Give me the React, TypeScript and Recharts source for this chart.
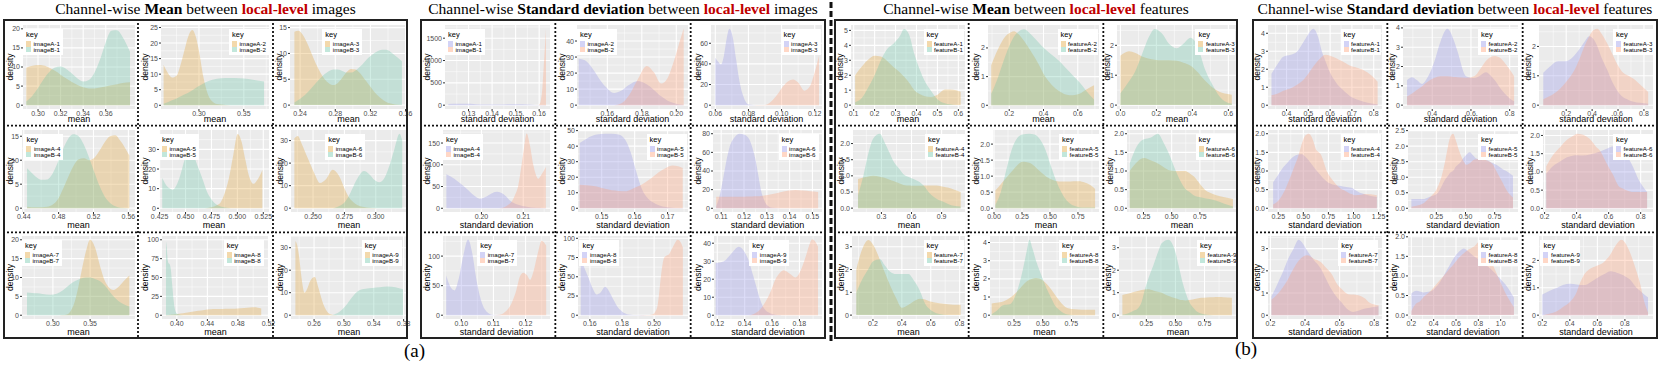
import React from 'react';
import { AreaChart, Area, XAxis, YAxis, CartesianGrid } from 'recharts';

// ---- channel-wise MEAN, local-level images (imageA = tan, imageB = teal) ----
const mi1X = [0.2896, 0.295, 0.3, 0.305, 0.31, 0.315, 0.32, 0.325, 0.33, 0.335, 0.34, 0.345, 0.35, 0.355, 0.36, 0.365, 0.37, 0.375, 0.3815];
const mi1A = [9.8, 10.3, 10.5, 10.4, 9.8, 9.0, 8.0, 7.0, 6.1, 5.3, 4.7, 4.4, 4.4, 4.6, 4.9, 5.2, 5.5, 5.8, 6.0];
const mi1B = [1.0, 2.5, 4.5, 6.8, 8.7, 9.9, 10.1, 9.5, 8.3, 7.0, 6.2, 6.6, 8.5, 12.0, 16.5, 19.5, 19.6, 17.8, 14.0];
const mi2X = [0.2606, 0.265, 0.27, 0.275, 0.28, 0.285, 0.289, 0.2927, 0.296, 0.3, 0.305, 0.31, 0.315, 0.32, 0.33, 0.34, 0.35, 0.36, 0.3726];
const mi2A = [13, 10.5, 8.9, 9.5, 13.5, 19.0, 22.8, 24.2, 22.5, 17.5, 9.0, 3.5, 1.2, 0.4, 0.1, 0, 0, 0, 0];
const mi2B = [0.5, 1.0, 1.6, 2.2, 2.9, 3.6, 4.2, 4.8, 5.5, 6.2, 7.0, 7.7, 8.2, 8.5, 8.8, 8.8, 8.6, 8.2, 7.6];
const mi3X = [0.2335, 0.238, 0.243, 0.248, 0.253, 0.258, 0.263, 0.268, 0.273, 0.278, 0.283, 0.288, 0.293, 0.298, 0.303, 0.308, 0.313, 0.318, 0.323, 0.328, 0.333, 0.338, 0.343, 0.348, 0.3558];
const mi3A = [14.2, 14.4, 13.6, 12.0, 10.0, 8.0, 6.3, 5.0, 4.2, 3.9, 4.3, 5.3, 6.4, 7.0, 6.9, 6.2, 5.1, 4.0, 2.9, 1.9, 1.2, 0.6, 0.3, 0.1, 0.0];
const mi3B = [0.5, 1.0, 1.6, 2.4, 3.3, 4.3, 5.2, 6.0, 6.6, 6.9, 6.9, 6.6, 6.3, 6.3, 6.7, 7.4, 8.3, 9.2, 9.9, 10.4, 10.7, 10.7, 10.3, 9.6, 8.5];
const mi4X = [0.4438, 0.449, 0.455, 0.461, 0.467, 0.473, 0.479, 0.485, 0.491, 0.497, 0.503, 0.509, 0.515, 0.521, 0.527, 0.533, 0.539, 0.545, 0.551, 0.5611];
const mi4A = [0.3, 0.2, 0.2, 0.2, 0.3, 0.7, 1.8, 4.0, 6.5, 8.8, 10.2, 10.4, 10.0, 10.5, 12.0, 13.8, 15.0, 15.2, 14.0, 11.0];
const mi4B = [8.3, 7.4, 6.4, 5.9, 6.0, 7.2, 9.5, 12.3, 14.5, 15.4, 15.0, 13.2, 10.5, 7.5, 4.6, 2.4, 1.1, 0.4, 0.1, 0.0];
const mi5X = [0.4275, 0.431, 0.4345, 0.4377, 0.441, 0.445, 0.449, 0.4536, 0.458, 0.462, 0.4663, 0.471, 0.4758, 0.4795, 0.4838, 0.488, 0.4917, 0.496, 0.5003, 0.504, 0.5076, 0.5115, 0.5155, 0.52, 0.5241];
const mi5A = [0, 0, 0, 0, 0, 0, 0, 0, 0, 0, 0, 0.2, 0.6, 1.4, 3.0, 8.0, 15.0, 27.0, 37.8, 34.0, 25.0, 16.0, 12.5, 15.0, 19.5];
const mi5B = [15.5, 12.0, 10.2, 9.5, 11.5, 17.0, 24.5, 29.0, 26.5, 21.0, 15.0, 8.0, 4.0, 2.0, 0.9, 0.4, 0.1, 0, 0, 0, 0, 0, 0, 0, 0];
const mi6X = [0.2351, 0.2378, 0.241, 0.2459, 0.251, 0.2554, 0.2605, 0.2657, 0.2705, 0.2757, 0.279, 0.2824, 0.286, 0.2905, 0.295, 0.299, 0.3027, 0.307, 0.311, 0.315, 0.3189, 0.3211];
const mi6A = [31.0, 32.0, 28.5, 22.0, 15.5, 11.2, 13.0, 17.0, 14.5, 8.0, 4.5, 2.5, 1.2, 0.5, 0.2, 0.1, 0, 0, 0, 0, 0, 0];
const mi6B = [0, 0, 0, 0, 0, 0, 0, 0, 0.8, 3.0, 6.0, 10.0, 13.8, 16.5, 15.0, 12.5, 11.5, 13.5, 19.0, 26.5, 33.0, 30.0];
const mi7X = [0.2652, 0.272, 0.279, 0.286, 0.2964, 0.305, 0.3125, 0.3188, 0.325, 0.3299, 0.3345, 0.3388, 0.3445, 0.35, 0.3565, 0.3634, 0.37, 0.3813, 0.388, 0.395, 0.4027];
const mi7A = [0, 0, 0, 0, 0, 0, 0.05, 0.2, 1.5, 4.0, 7.8, 12.0, 17.0, 20.0, 18.0, 13.0, 9.0, 6.7, 7.5, 9.0, 10.5];
const mi7B = [6.0, 5.9, 5.8, 5.6, 5.4, 5.7, 6.5, 7.5, 8.5, 9.1, 9.5, 9.8, 10.0, 10.0, 9.6, 9.0, 7.8, 5.0, 3.8, 2.9, 2.3];
const mi8X = [0.3858, 0.3868, 0.388, 0.3892, 0.3905, 0.392, 0.394, 0.396, 0.398, 0.401, 0.405, 0.412, 0.42, 0.428, 0.436, 0.444, 0.452, 0.46, 0.468, 0.476, 0.484, 0.492, 0.4996, 0.506, 0.5105];
const mi8A = [0.3, 0.3, 0.4, 0.4, 0.5, 0.6, 0.8, 1.0, 1.3, 1.7, 2.3, 3.3, 4.5, 5.8, 7.0, 8.0, 8.3, 8.4, 8.5, 8.7, 9.2, 10.0, 10.5, 10.0, 9.0];
const mi8B = [98, 90, 74, 69, 68, 62, 40, 18, 6, 1.5, 0.4, 0.1, 0, 0, 0, 0, 0, 0, 0, 0, 0, 0, 0, 0, 0];
const mi9X = [0.235, 0.2375, 0.24, 0.2427, 0.2473, 0.2505, 0.2545, 0.2609, 0.266, 0.2723, 0.2791, 0.285, 0.2882, 0.295, 0.3018, 0.3109, 0.32, 0.329, 0.3382, 0.348, 0.3586, 0.369, 0.3791];
const mi9A = [33, 31, 26, 18, 10, 11.5, 15, 17, 12, 5, 1, 0.2, 0.1, 0, 0, 0, 0, 0, 0, 0, 0, 0, 0];
const mi9B = [0, 0, 0, 0, 0, 0, 0, 0, 0, 0, 0, 0.1, 0.5, 1.8, 4.0, 8.0, 11.0, 11.8, 12.1, 12.4, 12.7, 12.4, 11.5];

// ---- channel-wise STANDARD DEVIATION, local-level images (lavender / salmon) ----
const si1X = [0.1214, 0.125, 0.129, 0.133, 0.137, 0.141, 0.145, 0.149, 0.153, 0.157, 0.1598, 0.1606, 0.1614, 0.1622, 0.1629];
const si1A = [25, 32, 30, 24, 18, 15, 17, 22, 20, 12, 6, 5, 4, 3, 2];
const si1B = [null, null, null, null, null, null, null, null, null, null, 0, 80, 400, 1100, 1700];
const si2X = [0.1434, 0.147, 0.151, 0.155, 0.159, 0.1639, 0.168, 0.1725, 0.1776, 0.1828, 0.187, 0.1912, 0.195, 0.1985, 0.2015, 0.2043];
const si2A = [29, 28, 23.5, 17, 11.5, 7.6, 9, 12.5, 15, 13, 9.5, 5.5, 2.8, 1.3, 0.6, 0.3];
const si2B = [0, 0, 0, 0, 0, 0, 1.0, 6.0, 16.0, 24.5, 20.5, 13.5, 17, 27, 38, 48];
const si3X = [0.06, 0.0617, 0.0634, 0.0652, 0.0668, 0.0685, 0.0705, 0.0725, 0.0745, 0.0766, 0.0781, 0.0796, 0.083, 0.087, 0.0907, 0.0947, 0.0978, 0.1008, 0.1038, 0.1069, 0.11, 0.1139, 0.117, 0.12, 0.1226];
const si3A = [46, 42, 39.5, 48, 64, 74, 66, 45, 24, 10, 4, 1, 0.2, 0, 0, 0, 0, 0, 0, 0, 0, 0, 0, 0, 0];
const si3B = [0, 0, 0, 0, 0, 0, 0, 0, 0, 0, 0, 0, 0, 0.1, 0.5, 5, 11, 18, 23, 25, 22, 14, 18, 32, 48];
const si4X = [0.1916, 0.1935, 0.1952, 0.1968, 0.198, 0.1996, 0.2012, 0.2024, 0.2036, 0.2048, 0.2058, 0.2064, 0.2072, 0.208, 0.2088, 0.2096, 0.2102, 0.2108, 0.2116, 0.2124, 0.2136, 0.2144, 0.2154];
const si4A = [78, 68, 55, 42, 31, 22, 27, 34, 38, 35, 28, 22, 15, 11, 8, 5.5, 4.5, 3.5, 2.6, 1.8, 1, 0.7, 0.5];
const si4B = [0, 0, 0, 0, 0, 0, 0, 0, 0, 0.5, 4, 8, 15, 30, 52, 100, 140, 172, 145, 100, 68, 78, 95];
const si5X = [0.1433, 0.1455, 0.1485, 0.151, 0.1531, 0.1551, 0.1572, 0.1588, 0.1603, 0.1623, 0.1638, 0.1654, 0.1675, 0.1695, 0.1715, 0.1732, 0.1746];
const si5A = [42, 45, 47.5, 48, 48, 47.5, 44, 36, 25, 12, 7, 4, 1.8, 0.8, 0.4, 0.2, 0.1];
const si5B = [15.2, 14.8, 14, 12.5, 11.6, 11.2, 11, 12, 13.5, 15.5, 17.5, 20, 23.5, 26, 27.5, 27, 26];
const si6X = [0.1078, 0.1092, 0.1107, 0.1122, 0.1136, 0.1158, 0.118, 0.1202, 0.1223, 0.1238, 0.1252, 0.1263, 0.1274, 0.1288, 0.1303, 0.1325, 0.136, 0.1397, 0.1426, 0.146, 0.149, 0.1525];
const si6A = [2, 12, 30, 50, 65, 76, 80, 79, 74, 64, 50, 35, 20, 9, 3, 0.5, 0, 0, 0, 0, 0, 0];
const si6B = [12.5, 12.5, 12.5, 12.5, 12.5, 12.5, 12.5, 12.5, 12.6, 12.7, 12.8, 13.0, 13.3, 13.8, 14.3, 15.2, 17.2, 19.0, 19.5, 19.0, 18.3, 17.5];
const si7X = [0.0953, 0.0966, 0.0979, 0.0992, 0.1006, 0.1021, 0.1034, 0.1047, 0.106, 0.1073, 0.1094, 0.111, 0.1125, 0.1135, 0.1146, 0.1156, 0.117, 0.1182, 0.1193, 0.1204, 0.1214, 0.1225, 0.1238, 0.125, 0.1264];
const si7A = [67, 48, 42, 62, 100, 128, 105, 60, 28, 10, 1, 0.2, 0, 0, 0, 0, 0, 0, 0, 0, 0, 0, 0, 0, 0];
const si7B = [0, 0, 0, 0, 0, 0, 0, 0, 0, 0, 0, 0.3, 1.5, 5, 11, 20, 40, 65, 72, 68, 60, 75, 105, 126, 118];
const si8X = [0.1543, 0.1565, 0.1589, 0.1615, 0.1642, 0.1668, 0.1695, 0.172, 0.1747, 0.1775, 0.18, 0.1842, 0.19, 0.1955, 0.1989, 0.2005, 0.2021, 0.2032, 0.2042, 0.2063, 0.2095, 0.212, 0.2147, 0.2165, 0.2179];
const si8A = [75, 62, 50, 36, 27, 30, 37, 31, 20, 10, 5, 1, 0.2, 0, 0, 0, 0, 0, 0, 0, 0, 0, 0, 0, 0];
const si8B = [0, 0, 0, 0, 0, 0, 0, 0, 0, 0, 0, 0, 0, 0.2, 1, 4, 12, 30, 50, 75, 80, 90, 98, 95, 88];
const si9X = [0.1188, 0.1249, 0.13, 0.1358, 0.14, 0.1431, 0.1462, 0.1492, 0.1516, 0.154, 0.1589, 0.1625, 0.1656, 0.1686, 0.173, 0.1771, 0.181, 0.1844, 0.1868, 0.1893, 0.1915, 0.1936];
const si9A = [29, 30, 34, 38, 35, 30, 22, 14, 8, 4, 1, 0.3, 0.1, 0, 0, 0, 0, 0, 0, 0, 0, 0];
const si9B = [0, 0, 0, 0, 0, 0, 0.5, 1.8, 3.5, 6, 13, 20, 23.5, 25, 23, 21, 25, 32, 38, 42, 41, 38];

// ---- channel-wise MEAN, local-level features ----
const mf1X = [0.107, 0.14, 0.17, 0.2, 0.23, 0.26, 0.29, 0.32, 0.341, 0.365, 0.39, 0.415, 0.44, 0.47, 0.5, 0.536, 0.56, 0.59, 0.611];
const mf1A = [2.0, 2.6, 3.05, 3.3, 3.25, 2.95, 2.55, 2.2, 1.9, 1.5, 1.0, 0.75, 0.6, 0.55, 0.7, 1.05, 1.05, 1.0, 0.9];
const mf1B = [0.2, 0.5, 1.2, 2.0, 3.0, 3.75, 4.1, 4.6, 5.1, 4.7, 3.4, 2.4, 1.6, 0.95, 0.4, 0.12, 0.05, 0, 0];
const mf2X = [0.095, 0.13, 0.17, 0.21, 0.228, 0.25, 0.286, 0.33, 0.37, 0.41, 0.45, 0.49, 0.53, 0.57, 0.61, 0.65, 0.695];
const mf2A = [1.4, 1.9, 2.35, 2.55, 2.58, 2.5, 2.25, 1.85, 1.45, 1.0, 0.7, 0.5, 0.38, 0.35, 0.4, 0.55, 0.7];
const mf2B = [0.4, 0.9, 1.6, 2.2, 2.4, 2.55, 2.65, 2.45, 2.2, 1.95, 1.75, 1.55, 1.3, 1.05, 0.8, 0.5, 0.2];
const mf3X = [0.0, 0.048, 0.08, 0.12, 0.16, 0.19, 0.23, 0.27, 0.314, 0.35, 0.39, 0.43, 0.47, 0.51, 0.55, 0.59, 0.619];
const mf3A = [1.65, 1.8, 1.75, 1.63, 1.55, 1.52, 1.5, 1.5, 1.48, 1.42, 1.32, 1.1, 0.82, 0.6, 0.45, 0.38, 0.35];
const mf3B = [0.4, 0.8, 1.1, 1.7, 2.3, 2.55, 2.4, 2.05, 1.9, 2.05, 2.25, 1.95, 1.2, 0.7, 0.3, 0.1, 0.05];
const mf4X = [0.067, 0.12, 0.17, 0.217, 0.283, 0.33, 0.383, 0.42, 0.483, 0.52, 0.583, 0.62, 0.683, 0.72, 0.783, 0.82, 0.87, 0.917, 0.97, 1.02, 1.09];
const mf4A = [0.9, 0.95, 0.98, 1.0, 0.97, 0.94, 0.88, 0.84, 0.76, 0.72, 0.7, 0.69, 0.69, 0.7, 0.7, 0.7, 0.69, 0.66, 0.63, 0.58, 0.5];
const mf4B = [0.4, 1.0, 1.7, 2.15, 2.3, 2.05, 1.7, 1.45, 1.2, 1.05, 0.95, 0.9, 0.8, 0.7, 0.45, 0.35, 0.25, 0.2, 0.12, 0.07, 0.05];
const mf5X = [0.012, 0.06, 0.11, 0.16, 0.21, 0.256, 0.315, 0.36, 0.41, 0.462, 0.51, 0.55, 0.609, 0.66, 0.71, 0.76, 0.81, 0.86, 0.903];
const mf5A = [0.55, 0.75, 0.95, 1.15, 1.35, 1.45, 1.42, 1.32, 1.15, 1.0, 0.9, 0.85, 0.83, 0.83, 0.84, 0.84, 0.8, 0.72, 0.6];
const mf5B = [0.1, 0.5, 1.2, 1.85, 2.2, 2.3, 2.32, 2.3, 2.15, 1.8, 1.3, 0.9, 0.45, 0.2, 0.08, 0.03, 0.02, 0.02, 0.02];
const mf6X = [0.128, 0.18, 0.226, 0.256, 0.317, 0.378, 0.43, 0.47, 0.53, 0.58, 0.622, 0.652, 0.713, 0.744, 0.805, 0.835, 0.896, 0.96, 1.043];
const mf6A = [1.0, 1.2, 1.32, 1.35, 1.28, 1.2, 1.1, 1.03, 1.0, 1.0, 1.0, 0.95, 0.8, 0.68, 0.47, 0.42, 0.35, 0.3, 0.25];
const mf6B = [1.2, 1.6, 1.8, 1.85, 1.9, 2.0, 1.75, 1.5, 1.05, 0.72, 0.52, 0.45, 0.32, 0.3, 0.26, 0.25, 0.2, 0.13, 0.05];
const mf7X = [0.085, 0.12, 0.17, 0.2, 0.25, 0.28, 0.319, 0.36, 0.4, 0.446, 0.48, 0.526, 0.561, 0.595, 0.618, 0.66, 0.72, 0.76, 0.807];
const mf7A = [2.0, 2.8, 3.3, 3.1, 2.4, 1.9, 1.3, 0.75, 0.32, 0.45, 0.6, 0.72, 0.68, 0.6, 0.57, 0.52, 0.48, 0.46, 0.45];
const mf7B = [1.0, 1.5, 2.05, 2.35, 2.45, 2.2, 1.9, 1.8, 1.8, 1.8, 1.55, 1.05, 0.5, 0.25, 0.15, 0.05, 0, 0, 0];
const mf8X = [0.056, 0.1, 0.156, 0.213, 0.27, 0.327, 0.36, 0.385, 0.41, 0.442, 0.47, 0.5, 0.535, 0.57, 0.61, 0.642, 0.68, 0.72, 0.78, 0.84, 0.9, 0.956];
const mf8A = [0.65, 0.68, 0.75, 0.95, 1.25, 1.65, 1.85, 1.95, 2.0, 2.05, 2.02, 1.92, 1.72, 1.45, 1.1, 0.82, 0.55, 0.38, 0.32, 0.3, 0.3, 0.3];
const mf8B = [0.05, 0.25, 0.55, 0.6, 1.2, 2.5, 3.5, 4.15, 3.7, 3.0, 2.5, 2.0, 1.45, 1.0, 0.5, 0.3, 0.12, 0.04, 0, 0, 0, 0];
const mf9X = [0.044, 0.09, 0.14, 0.176, 0.21, 0.235, 0.265, 0.309, 0.35, 0.382, 0.441, 0.47, 0.5, 0.53, 0.559, 0.588, 0.618, 0.65, 0.676, 0.72, 0.77, 0.824, 0.87, 0.912, 0.985];
const mf9A = [0.9, 0.95, 1.03, 1.08, 1.12, 1.14, 1.15, 1.1, 1.04, 1.0, 0.85, 0.8, 0.75, 0.7, 0.67, 0.65, 0.67, 0.7, 0.73, 0.77, 0.79, 0.8, 0.81, 0.8, 0.78];
const mf9B = [0.02, 0.08, 0.2, 0.3, 0.6, 1.1, 1.6, 2.2, 2.8, 3.2, 3.35, 3.2, 2.8, 2.15, 1.5, 1.0, 0.6, 0.35, 0.2, 0.08, 0.02, 0, 0, 0, 0];

// ---- channel-wise STANDARD DEVIATION, local-level features ----
const sf1X = [0.331, 0.36, 0.385, 0.42, 0.45, 0.477, 0.5, 0.523, 0.546, 0.562, 0.577, 0.6, 0.631, 0.646, 0.67, 0.692, 0.72, 0.754, 0.79, 0.818];
const sf1A = [1.75, 2.3, 2.7, 2.8, 3.0, 3.5, 3.95, 4.25, 3.75, 3.0, 2.5, 1.8, 1.2, 1.0, 0.72, 0.5, 0.33, 0.2, 0.1, 0.05];
const sf1B = [0.55, 0.65, 0.8, 0.95, 1.15, 1.4, 1.75, 2.15, 2.5, 2.7, 2.8, 2.75, 2.6, 2.5, 2.35, 2.2, 2.1, 1.95, 1.65, 1.3];
const sf2X = [0.27, 0.296, 0.32, 0.348, 0.374, 0.409, 0.443, 0.478, 0.51, 0.53, 0.574, 0.617, 0.65, 0.678, 0.7, 0.722, 0.75, 0.774, 0.8, 0.823];
const sf2A = [1.3, 1.45, 1.3, 1.1, 1.4, 2.2, 3.3, 3.95, 3.4, 2.8, 1.5, 1.4, 1.55, 1.7, 1.55, 1.3, 0.9, 0.6, 0.35, 0.2];
const sf2B = [0.45, 0.6, 0.78, 0.98, 1.2, 1.4, 1.5, 1.5, 1.46, 1.45, 1.42, 1.5, 1.9, 2.3, 2.48, 2.55, 2.45, 2.2, 1.85, 1.5];
const sf3X = [0.023, 0.07, 0.137, 0.2, 0.264, 0.3, 0.34, 0.378, 0.41, 0.441, 0.47, 0.517, 0.55, 0.593, 0.63, 0.681, 0.72, 0.77, 0.833];
const sf3A = [1.1, 1.3, 1.5, 1.5, 1.7, 1.9, 2.15, 2.35, 2.25, 2.0, 1.65, 1.2, 0.85, 0.5, 0.3, 0.18, 0.12, 0.08, 0.05];
const sf3B = [0.2, 0.3, 0.5, 0.8, 1.2, 1.55, 2.0, 2.35, 2.55, 2.6, 2.45, 2.1, 1.8, 1.4, 1.15, 1.0, 0.9, 0.7, 0.45];
const sf4X = [0.199, 0.25, 0.3, 0.35, 0.4, 0.45, 0.487, 0.52, 0.555, 0.6, 0.623, 0.674, 0.742, 0.793, 0.877, 0.911, 0.98, 1.013, 1.08, 1.115, 1.233];
const sf4A = [0.7, 0.9, 1.1, 1.25, 1.38, 1.44, 1.45, 1.38, 1.28, 1.12, 1.04, 0.88, 0.7, 0.64, 0.6, 0.58, 0.55, 0.5, 0.4, 0.37, 0.3];
const sf4B = [0.1, 0.2, 0.4, 0.7, 1.05, 1.4, 1.75, 1.95, 2.0, 1.8, 1.6, 1.45, 0.95, 0.75, 0.52, 0.48, 0.38, 0.35, 0.36, 0.38, 0.35];
const sf5X = [0.036, 0.08, 0.136, 0.18, 0.22, 0.25, 0.28, 0.307, 0.33, 0.35, 0.37, 0.393, 0.42, 0.45, 0.479, 0.507, 0.536, 0.565, 0.593, 0.65, 0.679, 0.736, 0.764, 0.822, 0.85, 0.907];
const sf5A = [0.3, 0.3, 0.3, 0.35, 0.4, 0.45, 0.6, 0.8, 0.95, 1.05, 1.15, 1.2, 1.35, 1.45, 1.6, 1.72, 1.8, 1.7, 1.6, 1.55, 1.55, 1.45, 1.4, 1.25, 1.2, 1.05];
const sf5B = [0.05, 0.08, 0.15, 0.3, 0.45, 0.6, 0.85, 1.2, 1.6, 2.0, 2.3, 2.4, 2.15, 1.8, 1.55, 1.4, 1.45, 1.55, 1.58, 1.6, 1.55, 1.4, 1.2, 0.8, 0.6, 0.35];
const sf6X = [0.21, 0.25, 0.301, 0.34, 0.382, 0.402, 0.44, 0.483, 0.52, 0.543, 0.58, 0.604, 0.624, 0.665, 0.685, 0.72, 0.745, 0.786, 0.84];
const sf6A = [0.95, 1.15, 1.3, 1.4, 1.45, 1.46, 1.45, 1.48, 1.52, 1.55, 1.62, 1.67, 1.7, 1.65, 1.6, 1.4, 1.2, 0.8, 0.45];
const sf6B = [1.15, 1.45, 1.7, 1.88, 2.0, 2.05, 2.02, 1.9, 1.7, 1.6, 1.3, 1.1, 0.95, 0.6, 0.55, 0.48, 0.45, 0.45, 0.45];
const sf7X = [0.206, 0.24, 0.275, 0.3, 0.334, 0.363, 0.39, 0.413, 0.45, 0.491, 0.52, 0.55, 0.59, 0.609, 0.649, 0.678, 0.708, 0.747, 0.767, 0.825];
const sf7A = [0.85, 1.4, 2.0, 2.5, 3.0, 3.4, 3.2, 2.9, 2.5, 2.1, 1.65, 1.2, 0.75, 0.6, 0.25, 0.15, 0.2, 0.3, 0.33, 0.4];
const sf7B = [0.7, 0.95, 1.3, 1.6, 2.1, 2.45, 2.65, 2.7, 2.55, 2.4, 2.15, 1.9, 1.35, 1.2, 0.95, 0.93, 0.9, 0.75, 0.6, 0.45];
const sf8X = [0.2, 0.245, 0.276, 0.306, 0.367, 0.397, 0.458, 0.488, 0.548, 0.579, 0.639, 0.67, 0.7, 0.761, 0.821, 0.852, 0.882, 0.973, 1.064, 1.118];
const sf8A = [0.55, 0.62, 0.6, 0.58, 0.6, 0.65, 0.85, 1.0, 1.3, 1.45, 1.65, 1.7, 1.65, 1.5, 1.38, 1.3, 1.25, 1.0, 0.7, 0.45];
const sf8B = [0.1, 0.3, 0.35, 0.45, 0.6, 0.7, 0.9, 1.0, 1.2, 1.3, 1.5, 1.58, 1.65, 1.75, 1.9, 1.8, 1.6, 1.0, 0.45, 0.2];
const sf9X = [0.2, 0.25, 0.308, 0.35, 0.404, 0.45, 0.476, 0.5, 0.524, 0.55, 0.596, 0.65, 0.668, 0.692, 0.74, 0.776, 0.8, 0.836, 0.884, 0.908, 0.94, 0.968];
const sf9A = [0.75, 0.88, 1.0, 1.1, 1.15, 1.12, 1.1, 1.1, 1.12, 1.2, 1.35, 1.5, 1.55, 1.6, 1.55, 1.48, 1.42, 1.3, 1.0, 0.9, 0.75, 0.65];
const sf9B = [0.0, 0.05, 0.15, 0.3, 0.5, 0.85, 1.2, 1.45, 1.6, 1.7, 1.8, 1.95, 2.05, 2.2, 2.6, 2.75, 2.65, 2.3, 1.6, 1.2, 0.5, 0.1];

// ---- tick labels ----
const mi1XT = [0.3, 0.32, 0.34, 0.36], mi1YT = [0, 5, 10, 15, 20];
const mi2XT = [0.3, 0.35], mi2YT = [0, 5, 10, 15, 20, 25];
const mi3XT = [0.24, 0.28, 0.32, 0.36], mi3YT = [0, 5, 10, 15];
const mi4XT = [0.44, 0.48, 0.52, 0.56], mi4YT = [0, 5, 10, 15];
const mi5XT = [0.425, 0.45, 0.475, 0.5, 0.525], mi5YT = [0, 10, 20, 30];
const mi6XT = [0.25, 0.275, 0.3], mi6YT = [0, 10, 20, 30];
const mi7XT = [0.3, 0.35], mi7YT = [0, 5, 10, 15, 20];
const mi8XT = [0.4, 0.44, 0.48, 0.52], mi8YT = [0, 25, 50, 75, 100];
const mi9XT = [0.26, 0.3, 0.34, 0.38], mi9YT = [0, 10, 20, 30];
const si1XT = [0.13, 0.14, 0.15, 0.16], si1YT = [0, 500, 1000, 1500];
const si2XT = [0.16, 0.18, 0.2], si2YT = [0, 10, 20, 30, 40];
const si3XT = [0.06, 0.08, 0.1, 0.12], si3YT = [0, 20, 40, 60];
const si4XT = [0.2, 0.21], si4YT = [0, 50, 100, 150];
const si5XT = [0.15, 0.16, 0.17], si5YT = [0, 10, 20, 30, 40, 50];
const si6XT = [0.11, 0.12, 0.13, 0.14, 0.15], si6YT = [0, 20, 40, 60, 80];
const si7XT = [0.1, 0.11, 0.12], si7YT = [0, 50, 100];
const si8XT = [0.16, 0.18, 0.2], si8YT = [0, 25, 50, 75, 100];
const si9XT = [0.12, 0.14, 0.16, 0.18], si9YT = [0, 10, 20, 30, 40];
const mf1XT = [0.1, 0.2, 0.3, 0.4, 0.5, 0.6], mf1YT = [0, 1, 2, 3, 4, 5];
const mf2XT = [0.2, 0.4, 0.6], mf2YT = [0, 1, 2];
const mf3XT = [0, 0.2, 0.4, 0.6], mf3YT = [0, 1, 2];
const mf4XT = [0.3, 0.6, 0.9], mf4YT = [0, 0.5, 1, 1.5, 2];
const mf5XT = [0, 0.25, 0.5, 0.75], mf5YT = [0, 0.5, 1, 1.5, 2];
const mf6XT = [0.25, 0.5, 0.75], mf6YT = [0, 0.5, 1, 1.5, 2];
const mf7XT = [0.2, 0.4, 0.6, 0.8], mf7YT = [0, 1, 2, 3];
const mf8XT = [0.25, 0.5, 0.75], mf8YT = [0, 1, 2, 3, 4];
const mf9XT = [0.25, 0.5, 0.75], mf9YT = [0, 1, 2, 3];
const sf1XT = [0.4, 0.5, 0.6, 0.7, 0.8], sf1YT = [0, 1, 2, 3, 4];
const sf2XT = [0.4, 0.6, 0.8], sf2YT = [0, 1, 2, 3, 4];
const sf3XT = [0.2, 0.4, 0.6, 0.8], sf3YT = [0, 1, 2];
const sf4XT = [0.25, 0.5, 0.75, 1, 1.25], sf4YT = [0, 0.5, 1, 1.5, 2];
const sf5XT = [0.25, 0.5, 0.75], sf5YT = [0, 0.5, 1, 1.5, 2, 2.5];
const sf6XT = [0.2, 0.4, 0.6, 0.8], sf6YT = [0, 0.5, 1, 1.5, 2];
const sf7XT = [0.2, 0.4, 0.6, 0.8], sf7YT = [0, 1, 2, 3];
const sf8XT = [0.2, 0.4, 0.6, 0.8, 1], sf8YT = [0, 0.5, 1, 1.5, 2];
const sf9XT = [0.2, 0.4, 0.6, 0.8], sf9YT = [0, 1, 2];

type Val = number | null;
type Plot = {
  x: number[]; a: Val[]; b: Val[]; xt: number[]; yt: number[];
  xd: [number, number]; yd: [number, number]; xf: number; yf: number;
  left: number; lg: number;
};

const P = (x: number[], a: Val[], b: Val[], xt: number[], yt: number[], xd: [number, number], yd: [number, number],
  xf: number, yf: number, left: number, lg: number): Plot => ({ x, a, b, xt, yt, xd, yd, xf, yf, left, lg });

const SANS = '"Liberation Sans", Arial, Helvetica, sans-serif';
const SERIF = '"Liberation Serif", "Times New Roman", serif';
const COLORS: Record<string, [string, string]> = {
  mean: ['#E0A030', '#66C2A5'],
  sd: ['#9090E8', '#FF9A70'],
};

const PANELS = [
  {
    x: 3, w: 405, stat: 'mean', statLabel: 'Mean', what: 'images', name: 'image', axis: 'mean', right: [3, 4, 1],
    plots: [
      P(mi1X, mi1A, mi1B, mi1XT, mi1YT, [0.2867, 0.3859], [-1.0, 21.0], 2, 0, 20, 0),
      P(mi2X, mi2A, mi2B, mi2XT, mi2YT, [0.2577, 0.3781], [-1.2, 25.8], 2, 0, 23, 1),
      P(mi3X, mi3A, mi3B, mi3XT, mi3YT, [0.2285, 0.3616], [-0.75, 15.5], 2, 0, 17, 0.42),
      P(mi4X, mi4A, mi4B, mi4XT, mi4YT, [0.438, 0.5676], [-0.8, 16.3], 2, 0, 19, 0.02),
      P(mi5X, mi5A, mi5B, mi5XT, mi5YT, [0.4244, 0.5305], [-1.9, 39.9], 3, 0, 21, 0),
      P(mi6X, mi6A, mi6B, mi6XT, mi6YT, [0.2324, 0.3249], [-1.7, 34.7], 3, 0, 18, 0.45),
      P(mi7X, mi7A, mi7B, mi7XT, mi7YT, [0.2585, 0.4103], [-1.0, 21.0], 2, 0, 19, 0),
      P(mi8X, mi8A, mi8B, mi8XT, mi8YT, [0.3806, 0.5207], [-5, 105], 2, 0, 24, 0.92),
      P(mi9X, mi9A, mi9B, mi9XT, mi9YT, [0.2291, 0.3845], [-1.7, 35.2], 2, 0, 18, 0.93),
    ],
  },
  {
    x: 420, w: 406, stat: 'sd', statLabel: 'Standard deviation', what: 'images', name: 'image', axis: 'standard deviation', right: [5, 3, 4],
    plots: [
      P(si1X, si1A, si1B, si1XT, si1YT, [0.12, 0.1646], [-85, 1795], 2, 0, 25, 0),
      P(si2X, si2A, si2B, si2XT, si2YT, [0.1424, 0.2068], [-2.4, 50], 2, 0, 22, 0),
      P(si3X, si3A, si3B, si3XT, si3YT, [0.0574, 0.1244], [-3.7, 77.7], 2, 0, 20, 0.98),
      P(si4X, si4A, si4B, si4XT, si4YT, [0.1908, 0.2164], [-8.6, 180], 2, 0, 23, 0),
      P(si5X, si5A, si5B, si5XT, si5YT, [0.1428, 0.1762], [-2.4, 50.4], 2, 0, 23, 0.98),
      P(si6X, si6A, si6B, si6XT, si6YT, [0.1064, 0.1542], [-4, 84], 2, 0, 22, 0.95),
      P(si7X, si7A, si7B, si7XT, si7YT, [0.0943, 0.1276], [-6.4, 134], 2, 0, 23, 0.51),
      P(si8X, si8A, si8B, si8XT, si8YT, [0.1526, 0.2211], [-4.9, 103], 2, 0, 23, 0.02),
      P(si9X, si9A, si9B, si9XT, si9YT, [0.1176, 0.1965], [-2.1, 44], 2, 0, 23, 0.52),
    ],
  },
  {
    x: 834, w: 404, stat: 'mean', statLabel: 'Mean', what: 'features', name: 'feature', axis: 'mean', right: [4, 4, 1],
    plots: [
      P(mf1X, mf1A, mf1B, mf1XT, mf1YT, [0.0873, 0.6317], [-0.26, 5.36], 1, 0, 17, 0.98),
      P(mf2X, mf2A, mf2B, mf2XT, mf2YT, [0.0762, 0.7238], [-0.13, 2.8], 1, 0, 19, 0.98),
      P(mf3X, mf3A, mf3B, mf3XT, mf3YT, [-0.019, 0.648], [-0.13, 2.68], 1, 0, 14, 0.98),
      P(mf4X, mf4A, mf4B, mf4XT, mf4YT, [0.0167, 1.133], [-0.12, 2.42], 1, 1, 19, 1),
      P(mf5X, mf5A, mf5B, mf5XT, mf5YT, [-0.009, 0.938], [-0.12, 2.44], 2, 1, 24, 1),
      P(mf6X, mf6A, mf6B, mf6XT, mf6YT, [0.104, 1.079], [-0.1, 2.1], 2, 1, 24, 0.98),
      P(mf7X, mf7A, mf7B, mf7XT, mf7YT, [0.055, 0.837], [-0.17, 3.47], 1, 0, 18, 0.98),
      P(mf8X, mf8A, mf8B, mf8XT, mf8YT, [0.0414, 0.99], [-0.21, 4.36], 2, 0, 21, 1),
      P(mf9X, mf9A, mf9B, mf9XT, mf9YT, [0.015, 1.029], [-0.17, 3.52], 2, 0, 16, 1),
    ],
  },
  {
    x: 1252, w: 406, stat: 'sd', statLabel: 'Standard deviation', what: 'features', name: 'feature', axis: 'standard deviation', right: [5, 5, 5],
    plots: [
      P(sf1X, sf1A, sf1B, sf1XT, sf1YT, [0.315, 0.838], [-0.21, 4.46], 1, 0, 16, 0.98),
      P(sf2X, sf2A, sf2B, sf2XT, sf2YT, [0.249, 0.843], [-0.2, 4.15], 1, 0, 16, 1),
      P(sf3X, sf3A, sf3B, sf3XT, sf3YT, [-0.01, 0.87], [-0.13, 2.73], 1, 0, 16, 1),
      P(sf4X, sf4A, sf4B, sf4XT, sf4YT, [0.148, 1.284], [-0.1, 2.1], 2, 1, 16, 0.98),
      P(sf5X, sf5A, sf5B, sf5XT, sf5YT, [0.007, 0.95], [-0.12, 2.52], 2, 1, 21, 1),
      P(sf6X, sf6A, sf6B, sf6XT, sf6YT, [0.19, 0.877], [-0.1, 2.15], 1, 1, 20, 1),
      P(sf7X, sf7A, sf7B, sf7XT, sf7YT, [0.186, 0.845], [-0.17, 3.57], 1, 0, 16, 0.95),
      P(sf8X, sf8A, sf8B, sf8XT, sf8YT, [0.17, 1.155], [-0.1, 2.02], 1, 1, 21, 1),
      P(sf9X, sf9A, sf9B, sf9XT, sf9YT, [0.176, 1.004], [-0.14, 2.89], 1, 0, 16, 0.02),
    ],
  },
];

const BOX_Y = 19;
const BOX_H = 320;

// ggplot-style minor breaks halfway between the majors
function minorVals(t: number[], d: [number, number]) {
  const s = t[1] - t[0];
  const out: number[] = [];
  for (let v = t[0] - s / 2; v < d[1]; v += s) if (v > d[0]) out.push(v);
  return out;
}

function Cell({ p, k, pn, row, col, x, y, w, h }: any) {
  const top = row === 0 ? 6 : 4;
  const xh = row === 0 ? 17 : 20;
  const right = pn.right[col];
  const data = p.x.map((v: number, i: number) => ({ x: v, a: p.a[i], b: p.b[i] }));
  const plotW = w - p.left - right;
  const legW = 40;
  const legLeft = p.left + p.lg * (plotW - legW);
  const [ca, cb] = COLORS[pn.stat];
  const densX = Math.max(4, Math.min(7, p.left - 11));

  return (
    <div style={{ position: 'absolute', left: x, top: y, width: w, height: h }}>
      <AreaChart width={w} height={h} data={data} margin={{ top, right, bottom: 0, left: 0 }}>
        <CartesianGrid fill="#EBEBEB" stroke="#FFFFFF" strokeWidth={0.5}
          horizontalValues={minorVals(p.yt, p.yd)} verticalValues={minorVals(p.xt, p.xd)} />
        <CartesianGrid stroke="#FFFFFF" strokeWidth={1.1} horizontalValues={p.yt} verticalValues={p.xt} />
        <XAxis type="number" dataKey="x" domain={p.xd} allowDataOverflow ticks={p.xt} interval={0} height={xh}
          tickFormatter={(v: number) => v.toFixed(p.xf)}
          tick={{ fontSize: 7, fill: '#4D4D4D', fontFamily: SANS }}
          tickSize={2} tickMargin={0} tickLine={{ stroke: '#333' }} axisLine={false}
          label={(lp: any) => {
            const vb = lp.viewBox;
            return (
              <text x={vb.x + vb.width / 2} y={vb.y + vb.height - 4} textAnchor="middle"
                fontSize={9} fontFamily={SANS} fill="#000">{pn.axis}</text>
            );
          }} />
        <YAxis type="number" domain={p.yd} allowDataOverflow ticks={p.yt} interval={0} width={p.left}
          tickFormatter={(v: number) => v.toFixed(p.yf)}
          tick={{ fontSize: 7, fill: '#4D4D4D', fontFamily: SANS }}
          tickSize={2} tickMargin={1} tickLine={{ stroke: '#333' }} axisLine={false}
          label={(lp: any) => {
            const vb = lp.viewBox;
            const cy = vb.y + vb.height / 2;
            return (
              <text x={densX} y={cy} transform={`rotate(-90 ${densX} ${cy})`} textAnchor="middle"
                dominantBaseline="central" fontSize={8.5} fontFamily={SANS} fill="#000">density</text>
            );
          }} />
        <Area dataKey="a" type="monotone" stroke="none" fill={ca} fillOpacity={0.3} baseValue={0}
          dot={false} activeDot={false} isAnimationActive={false} />
        <Area dataKey="b" type="monotone" stroke="none" fill={cb} fillOpacity={0.3} baseValue={0}
          dot={false} activeDot={false} isAnimationActive={false} />
      </AreaChart>
      <div style={{ position: 'absolute', left: legLeft, top: top + 4, width: legW, height: 26, background: '#fff', fontFamily: SANS, color: '#000' }}>
        <div style={{ position: 'absolute', left: 3, top: 1, fontSize: 7.5, lineHeight: '9px' }}>key</div>
        {[ca, cb].map((c, i) => (
          <div key={i} style={{ position: 'absolute', left: 3, top: 12 + i * 5.6, height: 5.6, display: 'flex', alignItems: 'center' }}>
            <span style={{ display: 'inline-block', width: 5, height: 5.6, background: c, opacity: 0.4 }} />
            <span style={{ fontSize: 6.2, lineHeight: '5.6px', marginLeft: 2.5, whiteSpace: 'nowrap' }}>
              {`${pn.name}${i === 0 ? 'A' : 'B'}-${k + 1}`}
            </span>
          </div>
        ))}
      </div>
    </div>
  );
}

function Title({ pn }: any) {
  return (
    <div style={{
      position: 'absolute', left: pn.x - 20, width: pn.w + 40, top: -0.5, textAlign: 'center',
      fontFamily: SERIF, fontSize: 15.5, lineHeight: '17px', whiteSpace: 'nowrap', color: '#000',
    }}>
      Channel-wise <b>{pn.statLabel}</b> between <b style={{ color: '#C00000' }}>local-level</b> {pn.what}
    </div>
  );
}

export default function App() {
  return (
    <div style={{ position: 'absolute', left: 0, top: 0, width: 1661, height: 366, background: '#fff', overflow: 'hidden' }}>
      <style>{'.recharts-surface { overflow: visible; }'}</style>
      {PANELS.map((pn, pi) => (
        <React.Fragment key={pi}>
          <Title pn={pn} />
          {pn.plots.map((p, k) => {
            const row = Math.floor(k / 3);
            const col = k % 3;
            const x0 = Math.round(pn.x + (col * pn.w) / 3);
            const x1 = Math.round(pn.x + ((col + 1) * pn.w) / 3);
            const y0 = Math.round(BOX_Y + (row * BOX_H) / 3);
            const y1 = Math.round(BOX_Y + ((row + 1) * BOX_H) / 3);
            return <Cell key={k} p={p} k={k} pn={pn} row={row} col={col} x={x0} y={y0} w={x1 - x0} h={y1 - y0} />;
          })}
        </React.Fragment>
      ))}
      <svg width={1661} height={366} style={{ position: 'absolute', left: 0, top: 0, pointerEvents: 'none' }}>
        {PANELS.map((pn, pi) => (
          <g key={pi}>
            {[1, 2].map((c) => (
              <line key={`v${c}`} x1={pn.x + (c * pn.w) / 3} x2={pn.x + (c * pn.w) / 3} y1={BOX_Y} y2={BOX_Y + BOX_H}
                stroke="#111" strokeWidth={1.8} strokeDasharray="2 2" />
            ))}
            {[1, 2].map((r) => (
              <line key={`h${r}`} x1={pn.x} x2={pn.x + pn.w} y1={BOX_Y + (r * BOX_H) / 3} y2={BOX_Y + (r * BOX_H) / 3}
                stroke="#111" strokeWidth={1.8} strokeDasharray="2 2" />
            ))}
            <rect x={pn.x + 1} y={BOX_Y + 1} width={pn.w - 2} height={BOX_H - 2} fill="none" stroke="#222" strokeWidth={2} />
          </g>
        ))}
        <line x1={831} x2={831} y1={2} y2={343} stroke="#111" strokeWidth={3} strokeDasharray="6 3" />
      </svg>
      <div style={{ position: 'absolute', left: 404, top: 341, fontFamily: SERIF, fontSize: 19, lineHeight: '20px' }}>(a)</div>
      <div style={{ position: 'absolute', left: 1235, top: 339, fontFamily: SERIF, fontSize: 19, lineHeight: '20px' }}>(b)</div>
    </div>
  );
}
